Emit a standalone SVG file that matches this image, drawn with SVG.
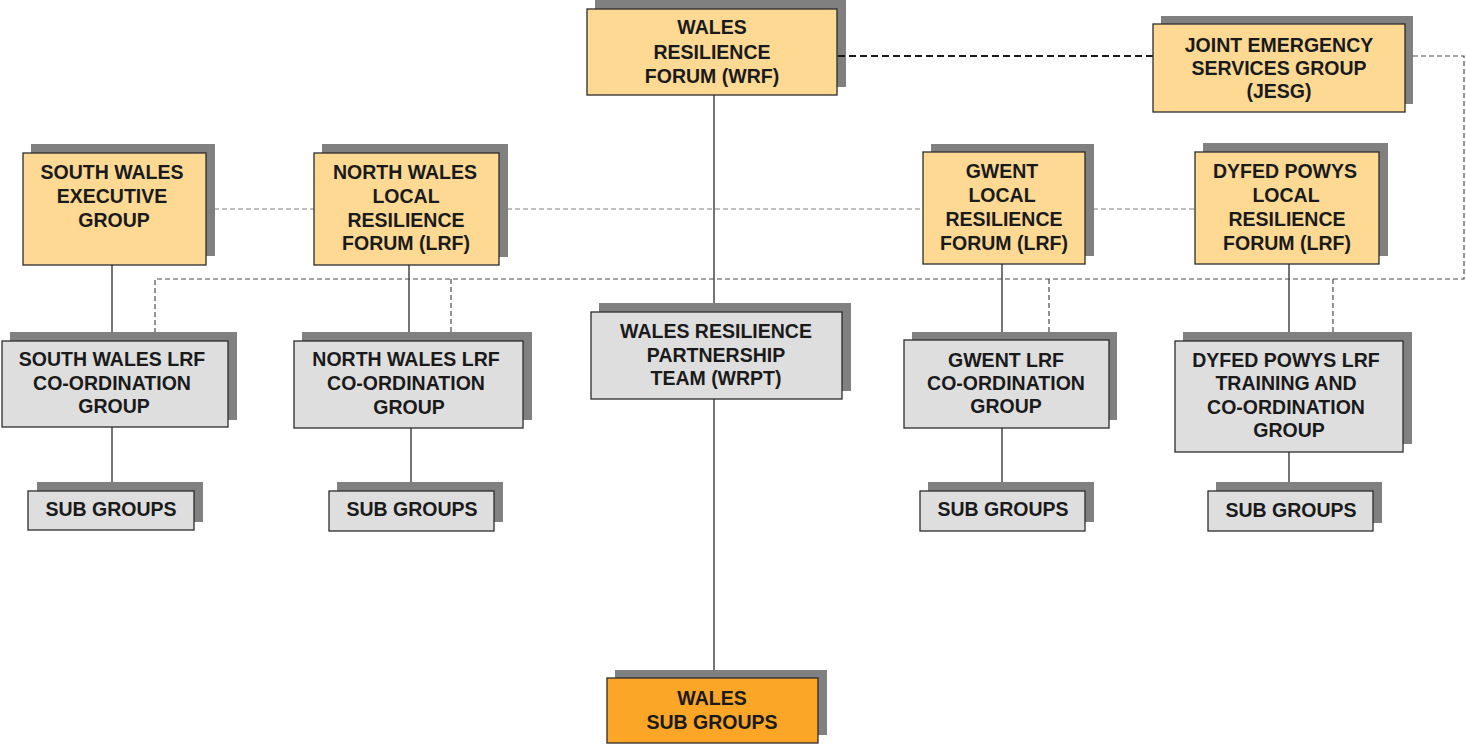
<svg xmlns="http://www.w3.org/2000/svg" width="1466" height="744" viewBox="0 0 1466 744">
  <style>
    .shadow { fill: #808080; }
    .box { stroke: #2b2b2b; stroke-width: 1.3; }
    .forum { fill: #FDD994; }
    .team { fill: #DEDEDE; }
    .wsub { fill: #FBA626; }
    .lbl { font-family: "Liberation Sans", Arial, sans-serif; font-weight: bold; font-size: 19.5px; fill: #1a1a1a; text-anchor: middle; }
    .solid { stroke: #2b2b2b; stroke-width: 1.3; fill: none; }
    .link { stroke: #1a1a1a; stroke-width: 2; stroke-dasharray: 7 4; fill: none; }
    .dash { stroke: #4a4a4a; stroke-width: 1.2; stroke-dasharray: 5 3; fill: none; }
    .peer { stroke: #808080; stroke-width: 1.2; stroke-dasharray: 5 3; fill: none; }
  </style>

  <g id="connectors">
    <!-- main spine -->
    <line class="solid" x1="714" y1="95" x2="714" y2="678"/>
    <!-- local forums to co-ordination groups -->
    <line class="solid" x1="112" y1="265" x2="112" y2="341"/>
    <line class="solid" x1="112" y1="427" x2="112" y2="491"/>
    <line class="solid" x1="409" y1="265" x2="409" y2="341"/>
    <line class="solid" x1="411" y1="428" x2="411" y2="491"/>
    <line class="solid" x1="1002" y1="264" x2="1002" y2="340"/>
    <line class="solid" x1="1002" y1="428" x2="1002" y2="491"/>
    <line class="solid" x1="1289" y1="264" x2="1289" y2="341"/>
    <line class="solid" x1="1289" y1="452" x2="1289" y2="491"/>
    <!-- JESG liaison loop -->
    <polyline class="dash" points="1405,56 1464,56 1464,279 155,279 155,332"/>
    <line class="dash" x1="451" y1="279" x2="451" y2="332"/>
    <line class="dash" x1="1049" y1="279" x2="1049" y2="332"/>
    <line class="dash" x1="1333" y1="279" x2="1333" y2="332"/>
    <!-- peer links between local forums -->
    <line class="peer" x1="206" y1="209" x2="314" y2="209"/>
    <line class="peer" x1="499" y1="209" x2="923" y2="209"/>
    <line class="peer" x1="1085" y1="209" x2="1195" y2="209"/>
  </g>

  <g id="wrf">
    <rect class="shadow" x="595" y="0" width="251" height="87"/>
    <rect class="box forum" x="587" y="9" width="250" height="86"/>
    <text class="lbl" x="712" y="34">WALES</text>
    <text class="lbl" x="712" y="59">RESILIENCE</text>
    <text class="lbl" x="712" y="83">FORUM (WRF)</text>
  </g>

  <!-- WRF to JESG link, drawn over the WRF shadow -->
  <g id="wrf-jesg-link">
    <line class="link" x1="838" y1="56" x2="1153" y2="56"/>
  </g>

  <g id="jesg">
    <rect class="shadow" x="1161" y="16" width="252" height="88"/>
    <rect class="box forum" x="1153" y="24" width="252" height="88"/>
    <text class="lbl" x="1279" y="52">JOINT EMERGENCY</text>
    <text class="lbl" x="1279" y="75">SERVICES GROUP</text>
    <text class="lbl" x="1279" y="98">(JESG)</text>
  </g>

  <g id="south-wales-exec">
    <rect class="shadow" x="31" y="144" width="184" height="112"/>
    <rect class="box forum" x="23" y="153" width="183" height="112"/>
    <text class="lbl" x="112" y="179">SOUTH WALES</text>
    <text class="lbl" x="112" y="203">EXECUTIVE</text>
    <text class="lbl" x="114" y="227">GROUP</text>
  </g>

  <g id="north-wales-lrf">
    <rect class="shadow" x="322" y="144" width="186" height="113"/>
    <rect class="box forum" x="314" y="153" width="185" height="112"/>
    <text class="lbl" x="405" y="179">NORTH WALES</text>
    <text class="lbl" x="406" y="203">LOCAL</text>
    <text class="lbl" x="406" y="227">RESILIENCE</text>
    <text class="lbl" x="406" y="250">FORUM (LRF)</text>
  </g>

  <g id="gwent-lrf">
    <rect class="shadow" x="931" y="144" width="163" height="112"/>
    <rect class="box forum" x="923" y="152" width="162" height="112"/>
    <text class="lbl" x="1002" y="178">GWENT</text>
    <text class="lbl" x="1002" y="202">LOCAL</text>
    <text class="lbl" x="1004" y="226">RESILIENCE</text>
    <text class="lbl" x="1004" y="250">FORUM (LRF)</text>
  </g>

  <g id="dyfed-powys-lrf">
    <rect class="shadow" x="1203" y="143" width="185" height="113"/>
    <rect class="box forum" x="1195" y="152" width="184" height="112"/>
    <text class="lbl" x="1285" y="178">DYFED POWYS</text>
    <text class="lbl" x="1286" y="202">LOCAL</text>
    <text class="lbl" x="1287" y="226">RESILIENCE</text>
    <text class="lbl" x="1287" y="250">FORUM (LRF)</text>
  </g>

  <g id="south-wales-coord">
    <rect class="shadow" x="10" y="332" width="227" height="88"/>
    <rect class="box team" x="2" y="341" width="226" height="86"/>
    <text class="lbl" x="112" y="366">SOUTH WALES LRF</text>
    <text class="lbl" x="112" y="390">CO-ORDINATION</text>
    <text class="lbl" x="114" y="413">GROUP</text>
  </g>

  <g id="north-wales-coord">
    <rect class="shadow" x="302" y="332" width="230" height="88"/>
    <rect class="box team" x="294" y="341" width="229" height="87"/>
    <text class="lbl" x="406" y="366">NORTH WALES LRF</text>
    <text class="lbl" x="406" y="390">CO-ORDINATION</text>
    <text class="lbl" x="409" y="414">GROUP</text>
  </g>

  <g id="wrpt">
    <rect class="shadow" x="599" y="303" width="252" height="88"/>
    <rect class="box team" x="591" y="312" width="251" height="87"/>
    <text class="lbl" x="716" y="338">WALES RESILIENCE</text>
    <text class="lbl" x="716" y="362">PARTNERSHIP</text>
    <text class="lbl" x="716" y="385">TEAM (WRPT)</text>
  </g>

  <g id="gwent-coord">
    <rect class="shadow" x="912" y="332" width="205" height="88"/>
    <rect class="box team" x="904" y="340" width="205" height="88"/>
    <text class="lbl" x="1006" y="367">GWENT LRF</text>
    <text class="lbl" x="1006" y="390">CO-ORDINATION</text>
    <text class="lbl" x="1006" y="413">GROUP</text>
  </g>

  <g id="dyfed-powys-coord">
    <rect class="shadow" x="1183" y="332" width="229" height="112"/>
    <rect class="box team" x="1175" y="341" width="228" height="111"/>
    <text class="lbl" x="1286" y="367">DYFED POWYS LRF</text>
    <text class="lbl" x="1286" y="390">TRAINING AND</text>
    <text class="lbl" x="1286" y="414">CO-ORDINATION</text>
    <text class="lbl" x="1289" y="437">GROUP</text>
  </g>

  <g id="south-wales-sub">
    <rect class="shadow" x="37" y="482" width="166" height="40"/>
    <rect class="box team" x="28" y="491" width="166" height="39"/>
    <text class="lbl" x="111" y="516">SUB GROUPS</text>
  </g>

  <g id="north-wales-sub">
    <rect class="shadow" x="337" y="482" width="166" height="40"/>
    <rect class="box team" x="329" y="491" width="165" height="40"/>
    <text class="lbl" x="412" y="516">SUB GROUPS</text>
  </g>

  <g id="gwent-sub">
    <rect class="shadow" x="928" y="482" width="166" height="40"/>
    <rect class="box team" x="920" y="491" width="165" height="40"/>
    <text class="lbl" x="1003" y="516">SUB GROUPS</text>
  </g>

  <g id="dyfed-powys-sub">
    <rect class="shadow" x="1216" y="482" width="166" height="41"/>
    <rect class="box team" x="1208" y="491" width="165" height="40"/>
    <text class="lbl" x="1291" y="517">SUB GROUPS</text>
  </g>

  <g id="wales-sub">
    <rect class="shadow" x="615" y="670" width="212" height="65"/>
    <rect class="box wsub" x="607" y="678" width="211" height="65"/>
    <text class="lbl" x="712" y="705">WALES</text>
    <text class="lbl" x="712" y="729">SUB GROUPS</text>
  </g>
</svg>
